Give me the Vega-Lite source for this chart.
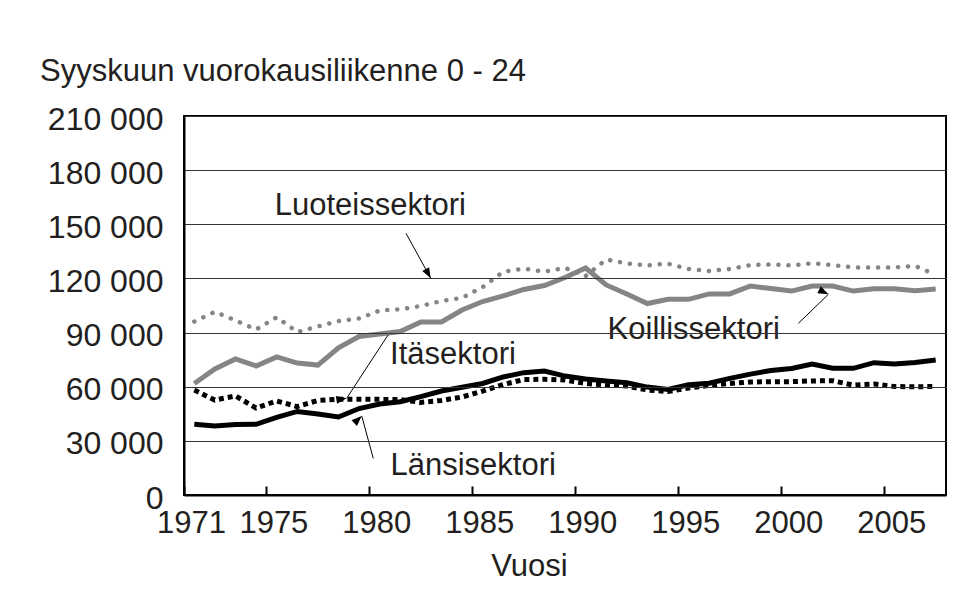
{
  "$schema": "https://vega.github.io/schema/vega-lite/v6.json",
  "width": 762,
  "height": 379,
  "autosize": "none",
  "padding": {"left": 184, "top": 116, "right": 30, "bottom": 112},
  "background": "white",
  "title": {
    "text": "Syyskuun vuorokausiliikenne 0 - 24",
    "anchor": "start",
    "frame": "group",
    "dx": -144,
    "dy": 13,
    "offset": 4,
    "baseline": "alphabetic",
    "fontSize": 31,
    "font": "Liberation Sans",
    "fontWeight": "normal",
    "color": "#231f20"
  },
  "config": {
    "view": {"stroke": "#000", "strokeWidth": 2},
    "font": "Liberation Sans"
  },
  "datasets": {
    "traffic": [
      {"Vuosi": 1971, "Luoteissektori": 96100, "Koillissektori": 61800, "Itäsektori": 58200, "Länsisektori": 39200},
      {"Vuosi": 1972, "Luoteissektori": 101500, "Koillissektori": 69800, "Itäsektori": 52600, "Länsisektori": 38200},
      {"Vuosi": 1973, "Luoteissektori": 96700, "Koillissektori": 75400, "Itäsektori": 54900, "Länsisektori": 39100},
      {"Vuosi": 1974, "Luoteissektori": 91700, "Koillissektori": 71500, "Itäsektori": 48200, "Länsisektori": 39200},
      {"Vuosi": 1975, "Luoteissektori": 98500, "Koillissektori": 76500, "Itäsektori": 52100, "Länsisektori": 43000},
      {"Vuosi": 1976, "Luoteissektori": 90300, "Koillissektori": 73100, "Itäsektori": 49000, "Länsisektori": 46300},
      {"Vuosi": 1977, "Luoteissektori": 93400, "Koillissektori": 72000, "Itäsektori": 52400, "Länsisektori": 44900},
      {"Vuosi": 1978, "Luoteissektori": 96400, "Koillissektori": 81500, "Itäsektori": 53000, "Länsisektori": 43200},
      {"Vuosi": 1979, "Luoteissektori": 97800, "Koillissektori": 87800, "Itäsektori": 53000, "Länsisektori": 47900},
      {"Vuosi": 1980, "Luoteissektori": 102200, "Koillissektori": 89200, "Itäsektori": 53000, "Länsisektori": 50400},
      {"Vuosi": 1981, "Luoteissektori": 102900, "Koillissektori": 90600, "Itäsektori": 52900, "Länsisektori": 51700},
      {"Vuosi": 1982, "Luoteissektori": 104700, "Koillissektori": 95900, "Itäsektori": 51300, "Länsisektori": 54500},
      {"Vuosi": 1983, "Luoteissektori": 107500, "Koillissektori": 95900, "Itäsektori": 52400, "Länsisektori": 57600},
      {"Vuosi": 1984, "Luoteissektori": 109200, "Koillissektori": 102500, "Itäsektori": 54300, "Länsisektori": 59700},
      {"Vuosi": 1985, "Luoteissektori": 115200, "Koillissektori": 107200, "Itäsektori": 57600, "Länsisektori": 61800},
      {"Vuosi": 1986, "Luoteissektori": 123700, "Koillissektori": 110300, "Itäsektori": 61200, "Länsisektori": 65400},
      {"Vuosi": 1987, "Luoteissektori": 125400, "Koillissektori": 113900, "Itäsektori": 64000, "Länsisektori": 67800},
      {"Vuosi": 1988, "Luoteissektori": 123800, "Koillissektori": 116100, "Itäsektori": 64100, "Länsisektori": 68700},
      {"Vuosi": 1989, "Luoteissektori": 125800, "Koillissektori": 120500, "Itäsektori": 63700, "Länsisektori": 65900},
      {"Vuosi": 1990, "Luoteissektori": 121300, "Koillissektori": 125800, "Itäsektori": 61800, "Länsisektori": 64300},
      {"Vuosi": 1991, "Luoteissektori": 130500, "Koillissektori": 116400, "Itäsektori": 61000, "Länsisektori": 63200},
      {"Vuosi": 1992, "Luoteissektori": 128300, "Koillissektori": 111400, "Itäsektori": 60400, "Länsisektori": 62200},
      {"Vuosi": 1993, "Luoteissektori": 127200, "Koillissektori": 106100, "Itäsektori": 58200, "Länsisektori": 59800},
      {"Vuosi": 1994, "Luoteissektori": 128200, "Koillissektori": 108400, "Itäsektori": 57300, "Länsisektori": 58500},
      {"Vuosi": 1995, "Luoteissektori": 125200, "Koillissektori": 108400, "Itäsektori": 59300, "Länsisektori": 61100},
      {"Vuosi": 1996, "Luoteissektori": 124100, "Koillissektori": 111400, "Itäsektori": 60700, "Länsisektori": 61900},
      {"Vuosi": 1997, "Luoteissektori": 125200, "Koillissektori": 111400, "Itäsektori": 61800, "Länsisektori": 64600},
      {"Vuosi": 1998, "Luoteissektori": 127400, "Koillissektori": 115800, "Itäsektori": 62600, "Länsisektori": 67000},
      {"Vuosi": 1999, "Luoteissektori": 127700, "Koillissektori": 114400, "Itäsektori": 62800, "Länsisektori": 69000},
      {"Vuosi": 2000, "Luoteissektori": 127200, "Koillissektori": 113000, "Itäsektori": 62800, "Länsisektori": 70100},
      {"Vuosi": 2001, "Luoteissektori": 128400, "Koillissektori": 115800, "Itäsektori": 63200, "Länsisektori": 72600},
      {"Vuosi": 2002, "Luoteissektori": 127400, "Koillissektori": 115800, "Itäsektori": 63300, "Länsisektori": 70200},
      {"Vuosi": 2003, "Luoteissektori": 126100, "Koillissektori": 113000, "Itäsektori": 60900, "Länsisektori": 70200},
      {"Vuosi": 2004, "Luoteissektori": 126000, "Koillissektori": 114300, "Itäsektori": 61500, "Länsisektori": 73300},
      {"Vuosi": 2005, "Luoteissektori": 126100, "Koillissektori": 114300, "Itäsektori": 60100, "Länsisektori": 72600},
      {"Vuosi": 2006, "Luoteissektori": 126900, "Koillissektori": 113200, "Itäsektori": 60000, "Länsisektori": 73400},
      {"Vuosi": 2007, "Luoteissektori": 122000, "Koillissektori": 114100, "Itäsektori": 60100, "Länsisektori": 74800}
    ],
    "labels": [
      {"label": "Luoteissektori", "x": 1979.55, "y": 155100},
      {"label": "Koillissektori", "x": 1995.25, "y": 86400},
      {"label": "Itäsektori", "x": 1983.56, "y": 72600},
      {"label": "Länsisektori", "x": 1984.54, "y": 11100}
    ],
    "arrows": [
      {"label": "Luoteissektori", "x1": 1981.28, "y1": 145000, "x2": 1982.48, "y2": 120100},
      {"label": "Koillissektori", "x1": 2000.33, "y1": 95100, "x2": 2001.79, "y2": 111200},
      {"label": "Itäsektori", "x1": 1980.41, "y1": 88700, "x2": 1978.40, "y2": 53600},
      {"label": "Länsisektori", "x1": 1979.69, "y1": 20300, "x2": 1979.13, "y2": 43800}
    ]
  },
  "layer": [
    {
      "data": {"name": "traffic"},
      "mark": {"type": "line", "color": "#000", "strokeWidth": 5},
      "encoding": {
        "x": {
          "field": "Vuosi", "type": "quantitative", "title": "Vuosi",
          "scale": {"domain": [1970.5, 2007.5], "nice": false, "zero": false},
          "axis": {
            "values": [1970.5, 1974.5, 1979.5, 1984.5, 1989.5, 1994.5, 1999.5, 2004.5],
            "labelExpr": "format(datum.value + 0.5, 'd')",
            "grid": true, "gridColor": "#000", "gridWidth": 2, "gridDash": [0, 370, 9, 1000],
            "ticks": false, "tickSize": 0, "zindex": 1,
            "domainColor": "#000", "domainWidth": 2,
            "labelFontSize": 31, "labelFont": "Liberation Sans", "labelColor": "#231f20",
            "labelPadding": 13, "labelOffset": 7, "labelFlush": false, "labelOverlap": false,
            "titleFontSize": 31, "titleFont": "Liberation Sans", "titleFontWeight": "normal",
            "titleColor": "#231f20", "titleX": 345, "titleY": 80, "titleBaseline": "alphabetic"
          }
        },
        "y": {
          "field": "Länsisektori", "type": "quantitative", "title": null,
          "scale": {"domain": [0, 210000], "nice": false},
          "axis": {
            "values": [0, 30000, 60000, 90000, 120000, 150000, 180000, 210000],
            "labelExpr": "replace(format(datum.value, ','), ',', ' ')",
            "grid": true, "gridColor": "#333", "gridWidth": 1, "zindex": 1,
            "ticks": false, "tickSize": 0,
            "domainColor": "#000", "domainWidth": 2,
            "labelFontSize": 32, "labelFont": "Liberation Sans", "labelColor": "#231f20",
            "labelPadding": 21, "labelOffset": 3
          }
        }
      }
    },
    {
      "data": {"name": "traffic"},
      "mark": {"type": "line", "color": "#000", "strokeWidth": 5, "strokeDash": [5, 4]},
      "encoding": {
        "x": {"field": "Vuosi", "type": "quantitative", "title": "Vuosi"},
        "y": {"field": "Itäsektori", "type": "quantitative", "title": null}
      }
    },
    {
      "data": {"name": "traffic"},
      "mark": {"type": "line", "color": "#858585", "strokeWidth": 5},
      "encoding": {
        "x": {"field": "Vuosi", "type": "quantitative", "title": "Vuosi"},
        "y": {"field": "Koillissektori", "type": "quantitative", "title": null}
      }
    },
    {
      "data": {"name": "traffic"},
      "mark": {"type": "line", "color": "#858585", "strokeWidth": 4.5, "strokeDash": [0.1, 9.9], "strokeCap": "round"},
      "encoding": {
        "x": {"field": "Vuosi", "type": "quantitative", "title": "Vuosi"},
        "y": {"field": "Luoteissektori", "type": "quantitative", "title": null}
      }
    },
    {
      "data": {"name": "arrows"},
      "mark": {"type": "rule", "color": "#000", "strokeWidth": 1},
      "encoding": {
        "x": {"field": "x1", "type": "quantitative", "title": "Vuosi"},
        "x2": {"field": "x2"},
        "y": {"field": "y1", "type": "quantitative", "title": null},
        "y2": {"field": "y2"}
      }
    },
    {
      "data": {"name": "arrows"},
      "mark": {"type": "point", "filled": true, "color": "#000", "opacity": 1, "size": 169, "shape": "M0,0L0.6,1.6L-0.6,1.6Z"},
      "encoding": {
        "x": {"field": "x2", "type": "quantitative", "title": "Vuosi"},
        "y": {"field": "y2", "type": "quantitative", "title": null},
        "angle": {
          "field": "label", "type": "nominal",
          "scale": {"domain": ["Luoteissektori", "Koillissektori", "Itäsektori", "Länsisektori"], "range": [151, 46, 213, 345]},
          "legend": null
        }
      }
    },
    {
      "data": {"name": "labels"},
      "transform": [{"filter": "datum.label == 'Koillissektori'"}],
      "mark": {"type": "text", "fontSize": 31, "font": "Liberation Sans", "color": "white", "stroke": "white", "strokeWidth": 12, "strokeJoin": "round", "align": "center", "baseline": "alphabetic"},
      "encoding": {
        "x": {"field": "x", "type": "quantitative", "title": "Vuosi"},
        "y": {"field": "y", "type": "quantitative", "title": null},
        "text": {"field": "label"}
      }
    },
    {
      "data": {"name": "labels"},
      "mark": {"type": "text", "fontSize": 31, "font": "Liberation Sans", "color": "#231f20", "align": "center", "baseline": "alphabetic"},
      "encoding": {
        "x": {"field": "x", "type": "quantitative", "title": "Vuosi"},
        "y": {"field": "y", "type": "quantitative", "title": null},
        "text": {"field": "label"}
      }
    }
  ]
}
